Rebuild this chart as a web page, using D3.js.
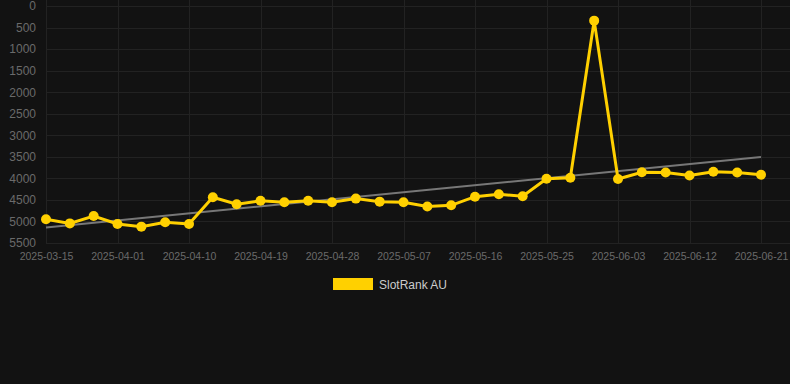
<!DOCTYPE html>
<html>
<head>
<meta charset="utf-8">
<script src="https://cdn.jsdelivr.net/npm/d3@7"></script>
<style>
html,body{margin:0;padding:0;background:#121212;}
svg{display:block;font-family:"Liberation Sans",Arial,Helvetica,sans-serif;}
</style>
</head>
<body>
<div id="chart"></div>
<script>
// categories (dates)
var dates=['2025-03-15','2025-03-21','2025-03-26','2025-04-01','2025-04-04','2025-04-07','2025-04-10',
	'2025-04-13','2025-04-16','2025-04-19','2025-04-22','2025-04-25','2025-04-28','2025-05-01',
	'2025-05-04','2025-05-07','2025-05-10','2025-05-13','2025-05-16','2025-05-19','2025-05-22',
	'2025-05-25','2025-05-28','2025-05-31','2025-06-03','2025-06-06','2025-06-09','2025-06-12',
	'2025-06-15','2025-06-18','2025-06-21'];

// series values (rank)
var ranks=[4950,5045,4875,5060,5120,5020,5060,4440,4600,4520,4555,4520,4555,4470,4540,4555,
	4655,4625,4425,4370,4415,4010,3985,340,4015,3860,3865,3935,3845,3865,3915];

var yTicks=[0,500,1000,1500,2000,2500,3000,3500,4000,4500,5000,5500];
var seriesName='SlotRank AU';

var W=790,H=384;
var pL=46,pR=761,pT=6,pB=243;

var svg=d3.select('#chart').append('svg').attr('width',W).attr('height',H);
svg.append('rect').attr('width',W).attr('height',H).attr('fill','#121212');

var x=d3.scalePoint().domain(dates).range([pL,pR]);
var y=d3.scaleLinear().domain([0,5500]).range([pT,pB]);

// gridlines
var grid=svg.append('g');
grid.selectAll('line.h').data(yTicks).enter().append('line')
	.attr('x1',pL).attr('x2',W).attr('y1',function(d){return Math.round(y(d))+0.5;}).attr('y2',function(d){return Math.round(y(d))+0.5;})
	.attr('stroke','#222').attr('stroke-width',1);
var xTickDates=dates.filter(function(d,i){return i%3===0;});
grid.selectAll('line.v').data(xTickDates).enter().append('line')
	.attr('x1',function(d){return Math.round(x(d))+0.5;}).attr('x2',function(d){return Math.round(x(d))+0.5;})
	.attr('y1',0).attr('y2',pB)
	.attr('stroke','#222').attr('stroke-width',1);

// axes
var yAxis=d3.axisLeft(y).tickValues(yTicks).tickFormat(d3.format('d')).tickSize(0).tickPadding(10);
var gy=svg.append('g').attr('transform','translate('+pL+',0)').call(yAxis);
gy.select('.domain').remove();
gy.selectAll('text').attr('fill','#6a6a6a').style('font-size','12px');

var xAxis=d3.axisBottom(x).tickValues(xTickDates).tickSize(0).tickPadding(10);
var gx=svg.append('g').attr('transform','translate(0,'+pB+')').call(xAxis);
gx.select('.domain').remove();
gx.selectAll('text').attr('fill','#6a6a6a').style('font-size','10.5px');

// trend line (least squares)
var n=ranks.length,mx=d3.mean(d3.range(n)),my=d3.mean(ranks);
var sxy=d3.sum(ranks,function(v,i){return (i-mx)*(v-my);});
var sxx=d3.sum(d3.range(n),function(i){return (i-mx)*(i-mx);});
var slope=sxy/sxx,icpt=my-slope*mx;
svg.append('line')
	.attr('x1',x(dates[0])).attr('y1',y(icpt))
	.attr('x2',x(dates[n-1])).attr('y2',y(icpt+slope*(n-1)))
	.attr('stroke','#777').attr('stroke-width',2);

// series line
var line=d3.line().x(function(d,i){return x(dates[i]);}).y(function(d){return y(d);});
svg.append('path').datum(ranks).attr('d',line)
	.attr('fill','none').attr('stroke','#ffd000').attr('stroke-width',3).attr('stroke-linejoin','miter');

svg.selectAll('circle.pt').data(ranks).enter().append('circle')
	.attr('cx',function(d,i){return x(dates[i]);}).attr('cy',function(d){return y(d);})
	.attr('r',5).attr('fill','#ffd000');

// legend
var lg=svg.append('g');
lg.append('rect').attr('x',333).attr('y',278).attr('width',40).attr('height',12).attr('fill','#ffd000');
lg.append('text').attr('x',379).attr('y',289).text(seriesName)
	.attr('fill','#ccc').style('font-size','12px');
</script>
</body>
</html>
